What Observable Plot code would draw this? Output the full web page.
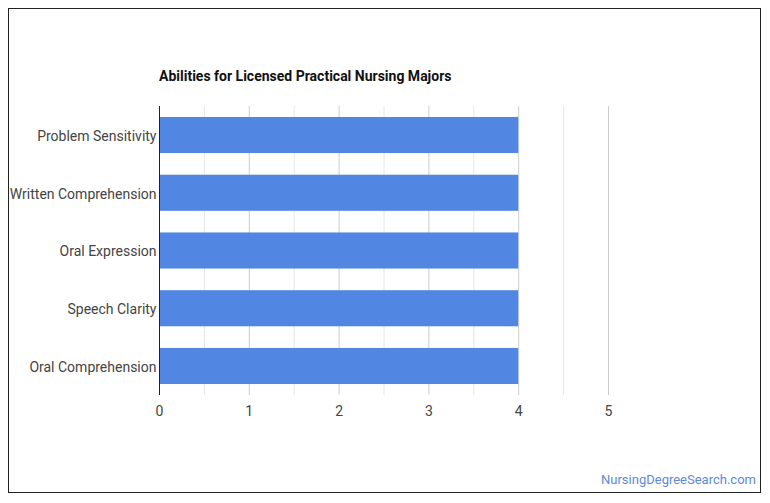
<!DOCTYPE html>
<html>
<head>
<meta charset="utf-8">
<script src="https://cdn.jsdelivr.net/npm/d3@7"></script>
<script src="https://cdn.jsdelivr.net/npm/@observablehq/plot@0.6"></script>
<style>
  html, body { margin: 0; padding: 0; background: #fff; }
  #wrap { position: relative; width: 770px; height: 503px; font-family: Roboto, "Noto Sans", sans-serif; }
  #frame { position: absolute; left: 8px; top: 8px; width: 753px; height: 485px; border: 1px solid #222; box-sizing: border-box; }
  #title { position: absolute; left: 159px; top: 68px; font-size: 14px; font-weight: bold; color: #111; }
  #credit { position: absolute; right: 14px; top: 472px; font-size: 13px; color: #5b8bd6; }
  #chart { position: absolute; left: 0; top: 0; }
</style>
</head>
<body>
<div id="wrap">
  <div id="chart"></div>
  <div id="frame"></div>
  <div id="title">Abilities for Licensed Practical Nursing Majors</div>
  <div id="credit">NursingDegreeSearch.com</div>
</div>
<script>
const categories = ["Problem Sensitivity", "Written Comprehension", "Oral Expression", "Speech Clarity", "Oral Comprehension"];
const values = [4, 4, 4, 4, 4];
const xTicks = [0, 1, 2, 3, 4, 5];
const minorGrid = [0.5, 1.5, 2.5, 3.5, 4.5];
const majorGrid = [1, 2, 3, 4, 5];

const data = categories.map((c, i) => ({ ability: c, value: values[i] }));

const chart = Plot.plot({
  width: 770,
  height: 503,
  marginLeft: 159,
  marginRight: 162,
  marginTop: 106,
  marginBottom: 108,
  style: { fontFamily: "Roboto, 'Noto Sans', sans-serif", fontSize: "14px", color: "#444", background: "transparent" },
  x: { domain: [0, 5], ticks: xTicks, tickSize: 0, tickPadding: 11, label: null, tickFormat: d => String(d) },
  y: { domain: categories, paddingInner: 0.375, paddingOuter: 0.19, round: false, tickSize: 0, tickPadding: 3, label: null },
  marks: [
    Plot.ruleX(minorGrid, { stroke: "#e6e6e6", strokeWidth: 1 }),
    Plot.ruleX(majorGrid, { stroke: "#cccccc", strokeWidth: 1 }),
    Plot.barX(data, { x: "value", y: "ability", fill: "#5286e3" }),
    Plot.ruleX([0], { stroke: "#222", strokeWidth: 1 }),
    Plot.axisY({ tickSize: 0, tickPadding: 3, dy: 1, label: null })
  ]
});
document.getElementById("chart").appendChild(chart);
</script>
</body>
</html>
